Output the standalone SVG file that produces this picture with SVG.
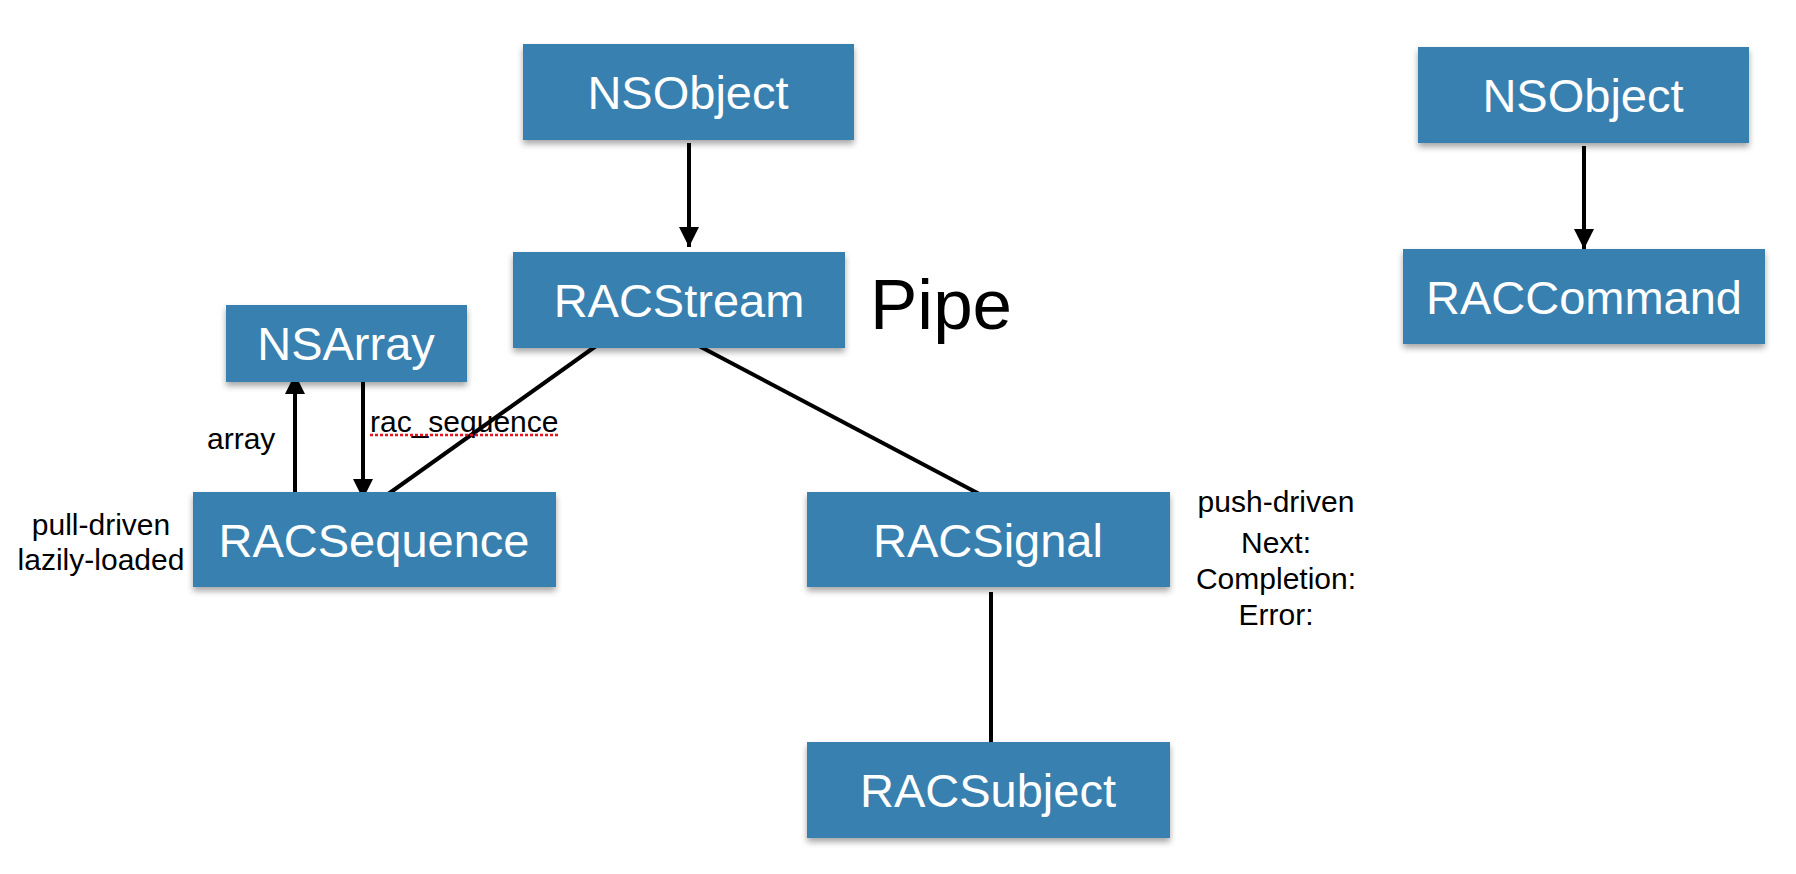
<svg xmlns="http://www.w3.org/2000/svg" width="1796" height="874" viewBox="0 0 1796 874">
<defs>
<filter id="sh" x="-5%" y="-10%" width="110%" height="130%">
<feDropShadow dx="0" dy="4" stdDeviation="3" flood-color="#000" flood-opacity="0.35"/>
</filter>
<marker id="ah" viewBox="0 0 20 20" refX="20" refY="10" markerWidth="20" markerHeight="20" markerUnits="userSpaceOnUse" orient="auto">
<path d="M0,0 L20,10 L0,20 Z" fill="#000"/>
</marker>
<style>
.box{fill:#3780b0;filter:url(#sh)}
.bt{font-family:"Liberation Sans",Arial,sans-serif;font-size:47px;fill:#fff;text-anchor:middle}
.lbl{font-family:"Liberation Sans",Arial,sans-serif;font-size:30px;fill:#000}
.c{text-anchor:middle}
.ln{stroke:#000;stroke-width:4;fill:none}
</style>
</defs>
<rect width="1796" height="874" fill="#fff"/>
<g id="connectors">
<line class="ln" x1="689" y1="143" x2="689" y2="247" marker-end="url(#ah)"/>
<line class="ln" x1="1584" y1="146" x2="1584" y2="249" marker-end="url(#ah)"/>
<line class="ln" x1="295" y1="499" x2="295" y2="374" marker-end="url(#ah)"/>
<line class="ln" x1="363" y1="374" x2="363" y2="499" marker-end="url(#ah)"/>
<line class="ln" x1="596" y1="346" x2="384" y2="497"/>
<line class="ln" x1="699" y1="346" x2="985" y2="497"/>
<line class="ln" x1="991" y1="592" x2="991" y2="746"/>
</g>
<g id="nsobject1"><rect class="box" x="523" y="44" width="331" height="96"/><text class="bt" x="688" y="109">NSObject</text></g>
<g id="racstream"><rect class="box" x="513" y="252" width="332" height="96"/><text class="bt" x="679" y="317">RACStream</text></g>
<g id="pipe"><text x="870" y="329" font-family="'Liberation Sans',Arial,sans-serif" font-size="71" fill="#000">Pipe</text></g>
<g id="nsarray"><rect class="box" x="226" y="305" width="241" height="77"/><text class="bt" x="346" y="360">NSArray</text></g>
<g id="racsequence"><rect class="box" x="193" y="492" width="363" height="95"/><text class="bt" x="374" y="557">RACSequence</text></g>
<g id="racsignal"><rect class="box" x="807" y="492" width="363" height="95"/><text class="bt" x="988" y="557">RACSignal</text></g>
<g id="racsubject"><rect class="box" x="807" y="742" width="363" height="96"/><text class="bt" x="988" y="807">RACSubject</text></g>
<g id="nsobject2"><rect class="box" x="1418" y="47" width="331" height="96"/><text class="bt" x="1583" y="112">NSObject</text></g>
<g id="raccommand"><rect class="box" x="1403" y="249" width="362" height="95"/><text class="bt" x="1584" y="314">RACCommand</text></g>
<g id="labels">
<text class="lbl" x="207" y="449">array</text>
<text class="lbl" x="370" y="432">rac_sequence</text>
<line x1="370" y1="435" x2="560" y2="435" stroke="#e8141b" stroke-width="2.5" stroke-dasharray="3 2"/>
<text class="lbl c" x="101" y="535">pull-driven</text>
<text class="lbl c" x="101" y="570">lazily-loaded</text>
<text class="lbl c" x="1276" y="512">push-driven</text>
<text class="lbl c" x="1276" y="553">Next:</text>
<text class="lbl c" x="1276" y="589">Completion:</text>
<text class="lbl c" x="1276" y="625">Error:</text>
</g>
</svg>
